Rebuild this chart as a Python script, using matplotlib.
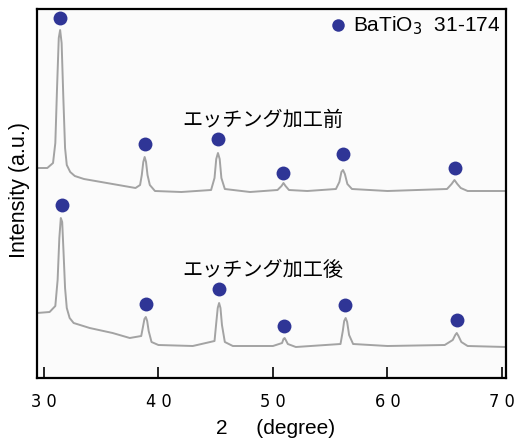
import numpy as np
import matplotlib
matplotlib.use("Agg")
import matplotlib.pyplot as plt

# upper trace (before etching)
x_before = [29.4, 30.3, 30.8, 31.0, 31.15, 31.3, 31.42, 31.55, 31.7, 31.85, 32.0, 32.3, 32.7,
            33.5, 35.0, 37.0, 38.0, 38.4, 38.55, 38.68, 38.8, 38.92, 39.05, 39.25, 39.7, 42.0,
            44.6, 44.9, 45.05, 45.2, 45.35, 45.5, 45.8, 48.0, 50.4, 50.75, 50.92, 51.1, 51.4,
            53.0, 55.5, 55.8, 55.98, 56.12, 56.28, 56.5, 56.9, 60.0, 65.2, 65.6, 65.85, 66.1,
            66.4, 67.0, 70.35]
y_before = [210, 210, 215, 235, 290, 340, 348, 335, 280, 230, 213, 206, 202,
            199, 196, 192, 190, 193, 203, 216, 221, 216, 203, 193, 187, 186,
            188, 200, 219, 225, 219, 200, 189, 186, 188, 192, 195, 192, 188,
            187, 189, 196, 206, 208, 204, 194, 189, 187, 189, 194, 198, 194,
            190, 187, 187]

# lower trace (after etching)
x_after = [29.4, 30.5, 31.0, 31.2, 31.35, 31.48, 31.6, 31.72, 31.85, 32.0, 32.25, 32.6, 34.0,
           36.0, 37.5, 38.5, 38.65, 38.78, 38.9, 39.02, 39.15, 39.4, 40.0, 43.0, 44.9, 45.05,
           45.18, 45.3, 45.42, 45.55, 45.8, 46.5, 50.0, 50.8, 50.92, 51.02, 51.12, 51.3, 52.0,
           55.9, 56.1, 56.22, 56.35, 56.48, 56.65, 57.0, 60.0, 65.0, 65.7, 65.92, 66.05,
           66.2, 66.45, 67.0, 70.35]
y_after = [65, 66, 72, 98, 140, 160, 156, 125, 90, 70, 60, 55, 50,
           45, 40, 42, 51, 59, 61, 57, 47, 36, 33, 32, 37, 55,
           70, 75, 70, 53, 36, 32, 32, 35, 39, 40, 38, 34, 31,
           34, 47, 57, 60, 56, 43, 34, 32, 33, 38, 43, 45,
           42, 36, 32, 31]

# BaTiO3 peak markers
dot_x_before = [31.4, 38.8, 45.2, 50.9, 56.1, 65.9]
dot_y_before = [360, 234, 239, 205, 224, 210]
dot_x_after = [31.6, 38.9, 45.3, 51.0, 56.3, 66.1]
dot_y_after = [173, 74, 89, 52, 73, 58]

xticks = [30, 40, 50, 60, 70]
xtick_labels = ["3 0", "4 0", "5 0", "6 0", "7 0"]

label_before = "エッチング加工前"
label_after = "エッチング加工後"
legend_text = "BaTiO$_3$  31-174"

dot_color = "#2f3596"
line_color = "#a3a3a3"

fig = plt.figure(figsize=(5.14, 4.43), dpi=100)
ax = fig.add_axes([37 / 514, 65 / 443, 469 / 514, 369 / 443])
ax.set_facecolor("#fbfbfb")

ax.plot(x_before, y_before, color=line_color, lw=1.4)
ax.plot(x_after, y_after, color=line_color, lw=1.4)
ax.plot(dot_x_before, dot_y_before, "o", color=dot_color, ms=10, mec="none")
ax.plot(dot_x_after, dot_y_after, "o", color=dot_color, ms=10, mec="none")

# legend
ax.plot([55.68], [353], "o", color=dot_color, ms=9, mec="none")
ax.text(56.95, 352, legend_text, fontsize=15, family="Liberation Sans", va="center", ha="left")

jp = ["Noto Sans CJK JP", "DejaVu Sans"]
ax.text(49.15, 258, label_before, fontsize=14.5, family=jp, ha="center", va="center")
ax.text(49.1, 108, label_after, fontsize=14.5, family=jp, ha="center", va="center")

ax.set_xlim(29.4, 70.35)
ax.set_ylim(0, 369)
ax.set_xticks(xticks)
ax.set_xticklabels(xtick_labels, fontsize=13, family="DejaVu Sans",
                   fontstretch="condensed")
ax.set_yticks([])
ax.tick_params(axis="x", direction="in", length=8, width=1.2, pad=11)
for s in ax.spines.values():
    s.set_linewidth(1.6)

fig.text(276 / 514, 1 - 429 / 443, "2     (degree)", fontsize=15, family="Liberation Sans",
         ha="center", va="center")
fig.text(20 / 514, 1 - 190 / 443, "Intensity (a.u.)", fontsize=15.5, family="Liberation Sans",
         rotation=90, ha="center", va="center")

fig.savefig("out.png", dpi=100)
